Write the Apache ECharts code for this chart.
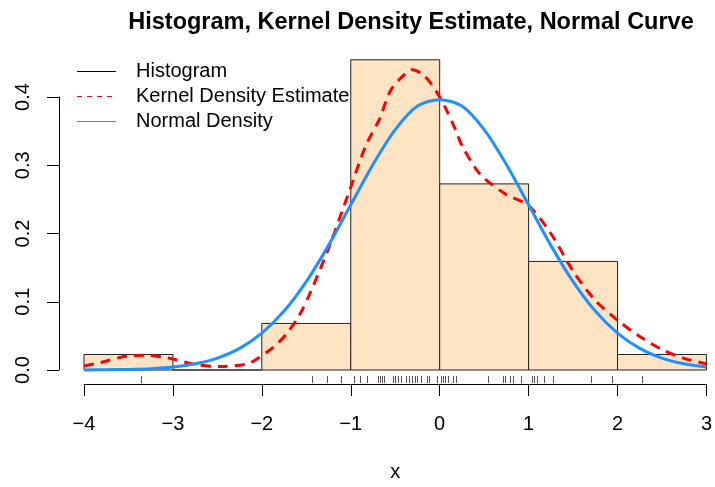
<!DOCTYPE html>
<html>
<head>
<meta charset="utf-8">
<script src="https://cdn.jsdelivr.net/npm/echarts@6/dist/echarts.min.js"></script>
<style>html,body{margin:0;padding:0;background:#fff;overflow:hidden}#c{width:715px;height:487px}</style>
</head>
<body>
<div id="c"></div>
<script>
// Histogram bins (density, bin width 1)
var binStarts = [-4, -3, -2, -1, 0, 1, 2];
var binEnds   = [-3, -2, -1, 0, 1, 2, 3];
var binDensity = [0.0227, 0, 0.0682, 0.4545, 0.2727, 0.1591, 0.0227];

// Kernel density estimate
var kdeX = [-4, -3.81, -3.51, -3.29, -3.03, -2.77, -2.47, -2.17, -2.06, -1.88, -1.73, -1.58, -1.47, -1.25, -1.0, -0.83, -0.68, -0.55, -0.38, -0.31, -0.2, -0.1, 0, 0.065, 0.175, 0.25, 0.4, 0.5, 0.75, 1.0, 1.25, 1.5, 1.75, 2.0, 2.25, 2.5, 2.75, 3.0];
var kdeY = [0.006, 0.011, 0.0205, 0.0215, 0.017, 0.0086, 0.005, 0.0086, 0.0158, 0.0325, 0.0516, 0.080, 0.109, 0.178, 0.268, 0.329, 0.367, 0.410, 0.435, 0.440, 0.434, 0.420, 0.400, 0.384, 0.353, 0.329, 0.296, 0.281, 0.257, 0.241, 0.200, 0.145, 0.102, 0.073, 0.049, 0.030, 0.017, 0.009];

// Normal density curve
var normX = [-4, -3.75, -3.5, -3.25, -3, -2.75, -2.5, -2.25, -2, -1.75, -1.5, -1.25, -1, -0.75, -0.5, -0.25, 0, 0.25, 0.5, 0.75, 1, 1.25, 1.5, 1.75, 2, 2.25, 2.5, 2.75, 3];
var normY = [0.0001, 0.0004, 0.0009, 0.002, 0.0044, 0.0091, 0.0175, 0.0317, 0.054, 0.0863, 0.1295, 0.1826, 0.242, 0.3011, 0.3521, 0.3867, 0.3960, 0.3867, 0.3521, 0.3011, 0.242, 0.1826, 0.1295, 0.0863, 0.054, 0.0317, 0.0175, 0.0091, 0.0044];

// Rug (observations)
var rugX = [-3.36, -1.44, -1.27, -1.105,
  -0.96, -0.90, -0.82, -0.69, -0.67, -0.65, -0.63, -0.52, -0.50, -0.47, -0.43, -0.38, -0.34, -0.31, -0.28, -0.25, -0.21, -0.14, -0.12, -0.03,
  0.01, 0.04, 0.06, 0.09, 0.15, 0.18, 0.54, 0.71, 0.74, 0.79, 0.83, 0.92,
  1.04, 1.06, 1.09, 1.17, 1.28, 1.70, 1.94,
  2.27];

// Tick labels
var xTickValues = [-4, -3, -2, -1, 0, 1, 2, 3];
var xTickLabels = ['\u22124', '\u22123', '\u22122', '\u22121', '0', '1', '2', '3'];
var yTickValues = [0, 0.1, 0.2, 0.3, 0.4];
var yTickLabels = ['0.0', '0.1', '0.2', '0.3', '0.4'];

var titleText = 'Histogram, Kernel Density Estimate, Normal Curve';
var legendLabels = ['Histogram', 'Kernel Density Estimate', 'Normal Density'];

var FONT = 'Liberation Sans, Arial, Helvetica, sans-serif';

function zip(a, b) { return a.map(function (v, i) { return [v, b[i]]; }); }
function lookup(vals, labels, v) {
  for (var i = 0; i < vals.length; i++) if (Math.abs(vals[i] - v) < 1e-9) return labels[i];
  return '';
}

var histData = binStarts.map(function (s, i) { return [s, binEnds[i], binDensity[i]]; });
var rugData = rugX.map(function (v) { return [v, 0]; });

var chart = echarts.init(document.getElementById('c'), null, { renderer: 'canvas', width: 715, height: 487 });
chart.setOption({
  animation: false,
  backgroundColor: '#ffffff',
  title: {
    text: titleText,
    left: 406, top: 6, textAlign: 'center',
    textStyle: { fontFamily: FONT, fontSize: 23.5, fontWeight: 'bold', color: '#000' }
  },
  grid: { left: 84, right: 6, top: 97, bottom: 487 - 376, containLabel: false },
  xAxis: {
    type: 'value', min: -4, max: 3, interval: 1,
    offset: 14,
    axisLine: { show: true, onZero: false, lineStyle: { color: '#000', width: 1 } },
    axisTick: { show: true, length: 12, lineStyle: { color: '#000' } },
    axisLabel: {
      margin: 30, fontFamily: FONT, fontSize: 20, color: '#000',
      formatter: function (v) { return lookup(xTickValues, xTickLabels, v); }
    },
    splitLine: { show: false },
    name: 'x', nameLocation: 'middle', nameGap: 78,
    nameTextStyle: { fontFamily: FONT, fontSize: 20, color: '#000' }
  },
  yAxis: {
    type: 'value', min: 0, max: 0.4, interval: 0.1,
    offset: 25,
    axisLine: { show: true, onZero: false, lineStyle: { color: '#000', width: 1 } },
    axisTick: { show: true, length: 12, lineStyle: { color: '#000' } },
    axisLabel: {
      rotate: 90, margin: 26, fontFamily: FONT, fontSize: 20, color: '#000',
      formatter: function (v) { return lookup(yTickValues, yTickLabels, v); }
    },
    splitLine: { show: false }
  },
  series: [
    {
      type: 'custom', name: 'Histogram', clip: false,
      data: histData,
      encode: { x: [0, 1], y: 2 },
      renderItem: function (params, api) {
        var p0 = api.coord([api.value(0), 0]);
        var p1 = api.coord([api.value(1), api.value(2)]);
        return {
          type: 'rect',
          shape: { x: p0[0], y: p1[1], width: p1[0] - p0[0], height: p0[1] - p1[1] },
          style: { fill: '#FFE4C4', stroke: '#222', lineWidth: 1 }
        };
      },
      z: 1
    },
    {
      type: 'custom', name: 'Rug', clip: false,
      data: rugData,
      encode: { x: 0, y: 1 },
      renderItem: function (params, api) {
        var p = api.coord([api.value(0), 0]);
        var x = Math.round(p[0]) + 0.5;
        return {
          type: 'line',
          shape: { x1: x, y1: p[1] + 6, x2: x, y2: p[1] + 13 },
          style: { stroke: '#555', lineWidth: 1 }
        };
      },
      z: 1
    },
    {
      type: 'line', name: 'Kernel Density Estimate', clip: false,
      data: zip(kdeX, kdeY), smooth: 0.3, showSymbol: false, symbol: 'none',
      lineStyle: { color: '#FF0000', width: 3, type: [10, 7] },
      z: 3
    },
    {
      type: 'line', name: 'Normal Density', clip: false,
      data: zip(normX, normY), smooth: 0.3, showSymbol: false, symbol: 'none',
      lineStyle: { color: '#1E90FF', width: 3 },
      z: 4
    }
  ],
  graphic: [
    { type: 'line', shape: { x1: 77, y1: 71.5, x2: 116, y2: 71.5 }, style: { stroke: '#000', lineWidth: 1 } },
    { type: 'line', shape: { x1: 77, y1: 96.5, x2: 116, y2: 96.5 }, style: { stroke: '#FF0000', lineWidth: 1, lineDash: [5, 5] } },
    { type: 'line', shape: { x1: 77, y1: 121.5, x2: 116, y2: 121.5 }, style: { stroke: '#1E90FF', lineWidth: 1 } },
    { type: 'text', left: 136, top: 61, style: { text: legendLabels[0], font: '20px ' + FONT, fill: '#000' } },
    { type: 'text', left: 136, top: 86, style: { text: legendLabels[1], font: '20px ' + FONT, fill: '#000' } },
    { type: 'text', left: 136, top: 111, style: { text: legendLabels[2], font: '20px ' + FONT, fill: '#000' } }
  ]
});
</script>
</body>
</html>
